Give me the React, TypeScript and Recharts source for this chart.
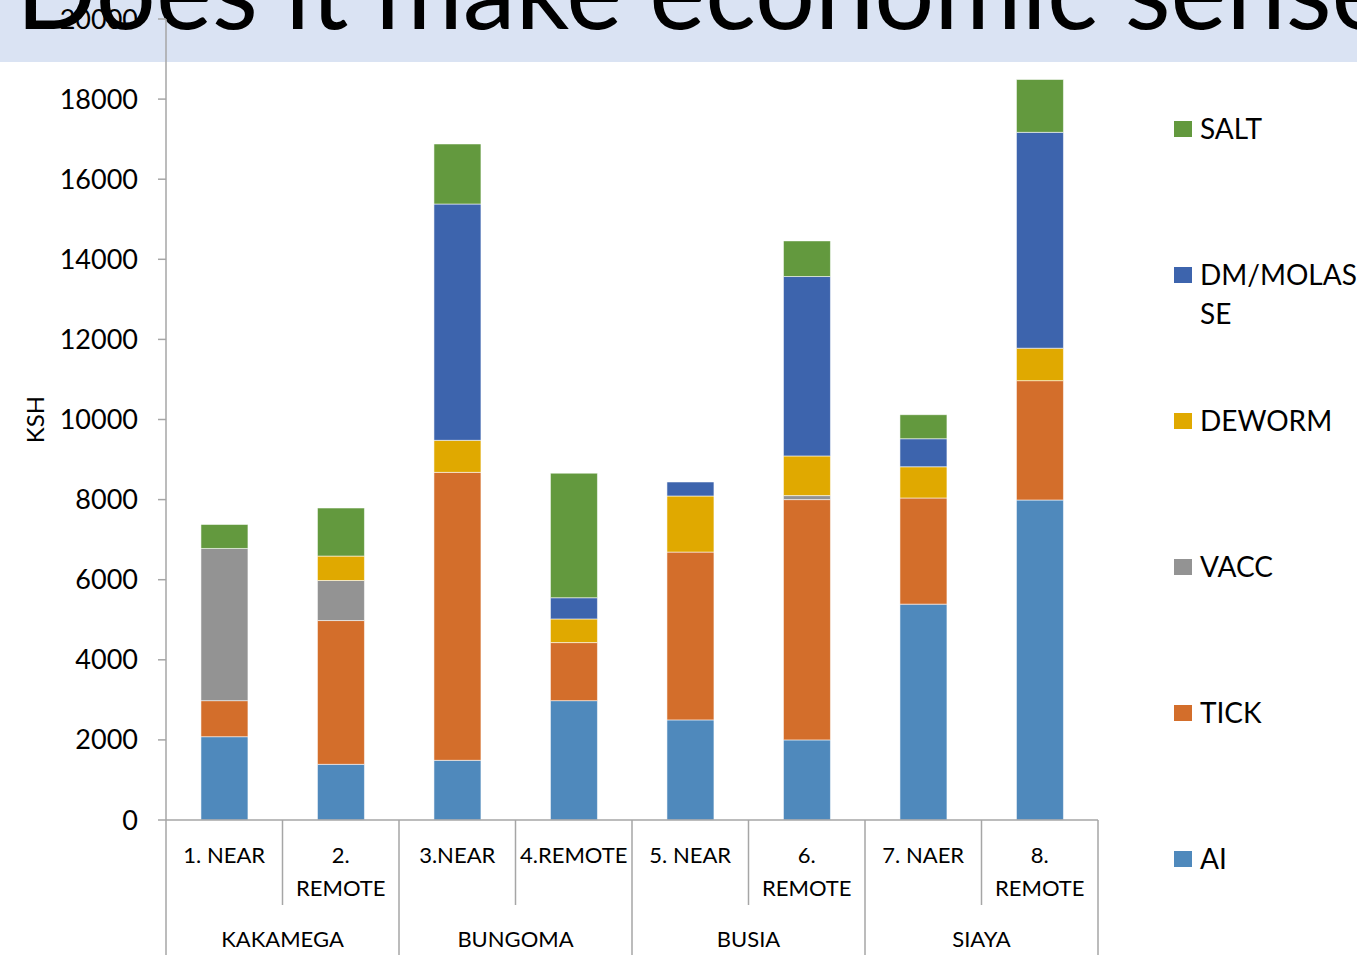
import React from "react";
import { BarChart, Bar, XAxis, YAxis, Legend } from "recharts";

const W = 1357;
const H = 959;
const FONT = "Lato, 'Open Sans', sans-serif";

// categories and groups
const categories = [
  "1. NEAR",
  "2. REMOTE",
  "3.NEAR",
  "4.REMOTE",
  "5. NEAR",
  "6. REMOTE",
  "7. NAER",
  "8. REMOTE",
];
const regions = ["KAKAMEGA", "BUNGOMA", "BUSIA", "SIAYA"];

// stacked series values (KSH), bottom to top
const ai = [2080, 1390, 1490, 2980, 2500, 2000, 5390, 7990];
const tick = [900, 3590, 7190, 1450, 4190, 6000, 2650, 2980];
const vacc = [3800, 1000, 0, 0, 0, 100, 0, 0];
const deworm = [0, 610, 800, 590, 1400, 990, 780, 810];
const dm = [0, 0, 5900, 530, 350, 4480, 700, 5390];
const salt = [600, 1200, 1500, 3110, 0, 890, 600, 1320];

const yTicks = [0, 2000, 4000, 6000, 8000, 10000, 12000, 14000, 16000, 18000, 20000];

const series = [
  { key: "AI", values: ai, color: "#4F89BC" },
  { key: "TICK", values: tick, color: "#D36E2B" },
  { key: "VACC", values: vacc, color: "#939393" },
  { key: "DEWORM", values: deworm, color: "#E0A900" },
  { key: "DM/MOLASSE", values: dm, color: "#3D64AD" },
  { key: "SALT", values: salt, color: "#63993E" },
];

const rows = categories.map((cat, i) => {
  const row: Record<string, any> = { cat };
  series.forEach((s) => (row[s.key] = s.values[i]));
  return row;
});

const AXIS = "#A6A6A6";

function CatTick(props: any) {
  const { x, y, payload, index } = props;
  const half = payload && payload.offset ? payload.offset : 58.25;
  const label: string = payload.value;
  const lines = label.length > 7 && label.includes(" ") ? label.split(" ") : [label];
  const groupStart = index % 2 === 0;
  return (
    <g>
      <line x1={x - half} x2={x - half} y1={y} y2={y + (groupStart ? 135 : 85)} stroke={AXIS} strokeWidth={1.5} />
      {index === categories.length - 1 && (
        <line x1={x + half} x2={x + half} y1={y} y2={y + 135} stroke={AXIS} strokeWidth={1.5} />
      )}
      <text x={x} y={y + 43} textAnchor="middle" fontSize={22} fontFamily={FONT} fill="#000">
        {lines.map((l, i) => (
          <tspan key={i} x={x} dy={i === 0 ? 0 : 33}>
            {l}
          </tspan>
        ))}
      </text>
      {groupStart && (
        <text x={x + half} y={y + 127} textAnchor="middle" fontSize={22} fontFamily={FONT} fill="#000">
          {regions[index / 2]}
        </text>
      )}
    </g>
  );
}

function LegendBox() {
  const items = [...series].reverse();
  return (
    <div style={{ fontFamily: FONT }}>
      {items.map((s) => (
        <div key={s.key} style={{ display: "flex", alignItems: "flex-start", height: 146 }}>
          <div style={{ width: 18, height: 16, background: s.color, marginTop: 12, marginRight: 8, flex: "none" }} />
          <div style={{ width: 157, fontSize: 28, lineHeight: "39px", color: "#000", wordBreak: "break-all" }}>
            {s.key}
          </div>
        </div>
      ))}
    </div>
  );
}

export default function App() {
  return (
    <div style={{ position: "absolute", left: 0, top: 0, width: W, height: H, background: "#fff", overflow: "hidden" }}>
      <svg width={W} height={H} style={{ position: "absolute", left: 0, top: 0 }}>
        <rect x={0} y={0} width={W} height={62} fill="#DAE3F3" />
        <text x={16} y={29} fontSize={106} fontFamily={FONT} fill="#000">
          Does it make economic sense
        </text>
      </svg>
      <div style={{ position: "absolute", left: 0, top: 0 }}>
        <BarChart
          width={W}
          height={H}
          data={rows}
          margin={{ top: 19, right: 259, bottom: 0, left: 0 }}
          barCategoryGap="30%"
        >
          <YAxis
            width={166}
            domain={[0, 20000]}
            ticks={yTicks}
            interval={0}
            tickSize={8}
            tickMargin={20}
            tick={{ fontSize: 27, fill: "#000", fontFamily: FONT }}
            tickLine={{ stroke: AXIS, strokeWidth: 1.5 }}
            axisLine={{ stroke: AXIS, strokeWidth: 1.5 }}
            label={{
              value: "KSH",
              angle: -90,
              position: "insideLeft",
              offset: 35,
              style: { textAnchor: "middle", fontSize: 24, fontFamily: FONT, fill: "#000" },
            }}
          />
          <XAxis
            dataKey="cat"
            height={139}
            interval={0}
            tickSize={0}
            tickMargin={0}
            tickLine={false}
            axisLine={{ stroke: AXIS, strokeWidth: 1.5 }}
            tick={<CatTick />}
          />
          <Legend
            layout="vertical"
            align="center"
            verticalAlign="middle"
            wrapperStyle={{ left: 1174, top: 109, width: 183 }}
            content={() => <LegendBox />}
          />
          {series.map((s) => (
            <Bar
              key={s.key}
              dataKey={s.key}
              stackId="a"
              fill={s.color}
              stroke="rgba(255,255,255,0.55)"
              strokeWidth={1}
              isAnimationActive={false}
            />
          ))}
        </BarChart>
      </div>
    </div>
  );
}
